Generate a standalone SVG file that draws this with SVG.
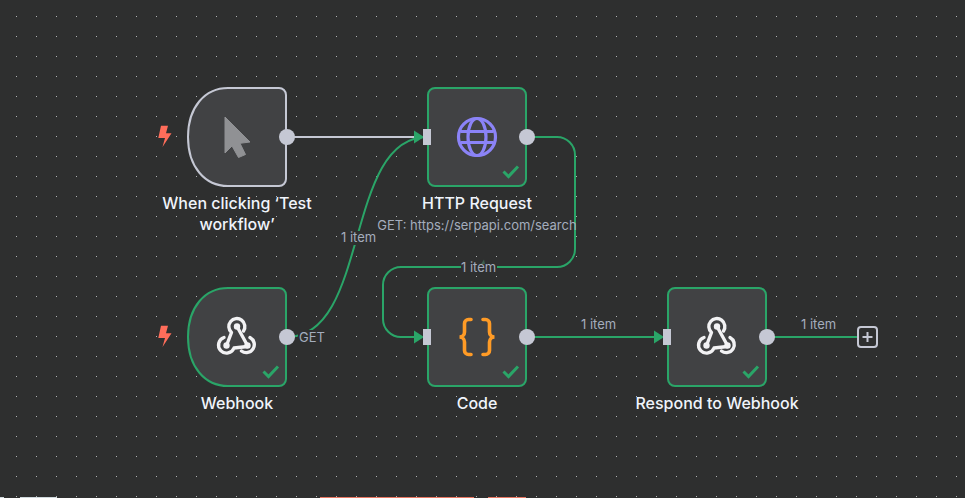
<svg xmlns="http://www.w3.org/2000/svg" width="965" height="498" viewBox="0 0 965 498">
<style>
text{font-family:Inter,"Liberation Sans",sans-serif}
.lbl{font-size:16px;font-weight:500;fill:#f0f4fb;text-anchor:middle}
.small{font-size:13px;fill:#a4adbd}
.node{fill:#414244;stroke-width:2}
.ok{stroke:#2aa568}
.w{stroke:#c5c8d4}
.conn{fill:none;stroke:#2aa568;stroke-width:2}
.check{fill:none;stroke:#2aa568;stroke-width:3}
.port{fill:#c5c8d4}
.bolt{fill:#ff6d5a}
.bg{fill:#2e2f2f}
.arrow{fill:#2aa568}
</style>
<defs>
<pattern id="dots" width="20" height="20" patternUnits="userSpaceOnUse"><rect x="16" y="16" width="1" height="1" fill="#aeb0b2"/></pattern>
<g id="hookfull">
<g fill="none" stroke="#f2f2f4" stroke-width="3.4" stroke-linecap="round" stroke-linejoin="round">
<path d="M-10.500 9.500L-5.500 -3.500A8 8 0 1 1 6.500 -5"/>
<path d="M0 -9.500L10.500 9.500"/>
<path d="M-13 1.500A8 8 0 1 0 -3 12L10.500 10.500"/>
<path d="M13 1.500A8 8 0 1 1 4.500 15"/>
</g>
<circle cx="0" cy="-9.500" r="3.200" fill="#f2f2f4"/><circle cx="-10.500" cy="9.500" r="3.200" fill="#f2f2f4"/><circle cx="10.500" cy="9.500" r="3.200" fill="#f2f2f4"/>
</g>
<path id="checkmark" d="M-7.500 0.500L-2.500 5.500L7 -4.500"/>
<path id="zap" d="M-4 -11.300H3L1 -3.700H6.500L-2.500 10L0 1H-6.700Z"/>
</defs>
<rect width="965" height="498" fill="#2e2f2f"/>
<rect width="965" height="498" fill="url(#dots)"/>
<g id="bottom-edges">
<rect x="0" y="497" width="4" height="1" fill="#cfd8dc"/>
<rect x="20" y="497" width="37" height="1" fill="#cfd8dc"/>
<rect x="320" y="497" width="154" height="1" fill="#e87762"/>
<rect x="488" y="497" width="38" height="1" fill="#e87762"/>
</g>
<g id="connectors">
<path d="M287 137H419" fill="none" stroke="#c5c8d4" stroke-width="2"/>
<path class="conn" d="M287 337C370 337 344 137 427 137"/>
<path class="conn" d="M527 137H557A18 18 0 0 1 575 155V249A18 18 0 0 1 557 267H401A18 18 0 0 0 383 285V319A18 18 0 0 0 401 337H419"/>
<path class="conn" d="M527 337H659"/>
<path class="conn" d="M767 337H857"/>
<polygon class="arrow" points="414,130.500 424,137 414,143.500"/>
<polygon class="arrow" points="414,330.500 424,337 414,343.500"/>
<polygon class="arrow" points="654,330.500 664,337 654,343.500"/>
<rect class="bg" x="341" y="231" width="36" height="14"/>
<rect class="bg" x="461" y="261" width="36" height="14"/>
<rect class="bg" x="298" y="330" width="26" height="14"/>
<polygon points="481,264 484,259.500 485,264" fill="#3d5f4e"/>
<text class="small" x="341" y="242">1 item</text>
<text class="small" x="461" y="272">1 item</text>
<text class="small" x="299" y="341.500">GET</text>
<text class="small" x="581" y="329">1 item</text>
<text class="small" x="801" y="329">1 item</text>
<g id="add" fill="none" stroke="#c5c8d4" stroke-width="2"><rect x="858" y="327" width="19" height="20" rx="3"/><path d="M862.500 337H872.500M867.500 332V342"/></g>
</g>
<g id="node-trigger">
<path class="node w" d="M228 88H279A7 7 0 0 1 286 95V179A7 7 0 0 1 279 186H228C205 186 188 167 188 137C188 107 205 88 228 88Z"/>
<circle class="port" cx="287" cy="137" r="8"/>
<polygon points="225,117 250,142 240,143.300 245.500,154.500 238.500,157.500 232,146 225,153" fill="#909194" stroke="#909194" stroke-width="1" stroke-linejoin="round"/>
<use href="#zap" class="bolt" x="165" y="137"/>
<text class="lbl" x="237" y="208.500">When clicking ‘Test</text>
<text class="lbl" x="237" y="229.500">workflow’</text>
</g>
<g id="node-http">
<rect class="node ok" x="428" y="88" width="98" height="98" rx="7"/>
<rect class="port" x="423" y="129" width="8" height="16"/>
<circle class="port" cx="527" cy="137" r="8"/>
<g fill="none" stroke="#8b83f7" stroke-width="3.200">
<circle cx="477" cy="137" r="18.500"/><ellipse cx="477" cy="137" rx="9" ry="18.500"/><path d="M460.500 131.500H493.500M460.500 142.500H493.500"/>
</g>
<use href="#checkmark" class="check" x="511" y="171"/>
<text class="lbl" x="477" y="208.500">HTTP Request</text>
<text class="small" x="477" y="230" text-anchor="middle">GET: https://serpapi.com/search</text>
</g>
<g id="node-webhook">
<path class="node ok" d="M228 288H279A7 7 0 0 1 286 295V379A7 7 0 0 1 279 386H228C205 386 188 367 188 337C188 307 205 288 228 288Z"/>
<circle class="port" cx="287" cy="337" r="8"/>
<use href="#hookfull" x="237" y="336"/>
<use href="#checkmark" class="check" x="271" y="371"/>
<use href="#zap" class="bolt" x="165" y="337"/>
<text class="lbl" x="237" y="408.500">Webhook</text>
</g>
<g id="node-code">
<rect class="node ok" x="428" y="288" width="98" height="98" rx="7"/>
<rect class="port" x="423" y="329" width="8" height="16"/>
<circle class="port" cx="527" cy="337" r="8"/>
<path d="M471 319.500H468.500A4 4 0 0 0 464.500 323.500V332A5 5 0 0 1 459.500 337A5 5 0 0 1 464.500 342V350.500A4 4 0 0 0 468.500 354.500H471M483 319.500H485.500A4 4 0 0 1 489.500 323.500V332A5 5 0 0 0 494.500 337A5 5 0 0 0 489.500 342V350.500A4 4 0 0 1 485.500 354.500H483" fill="none" stroke="#ff9b26" stroke-width="3.600" stroke-linecap="round"/>
<use href="#checkmark" class="check" x="511" y="371"/>
<text class="lbl" x="477" y="408.500">Code</text>
</g>
<g id="node-respond">
<rect class="node ok" x="668" y="288" width="98" height="98" rx="7"/>
<rect class="port" x="663" y="329" width="8" height="16"/>
<circle class="port" cx="767" cy="337" r="8"/>
<use href="#hookfull" x="717" y="336"/>
<use href="#checkmark" class="check" x="751" y="371"/>
<text class="lbl" x="717" y="408.500">Respond to Webhook</text>
</g>
</svg>
